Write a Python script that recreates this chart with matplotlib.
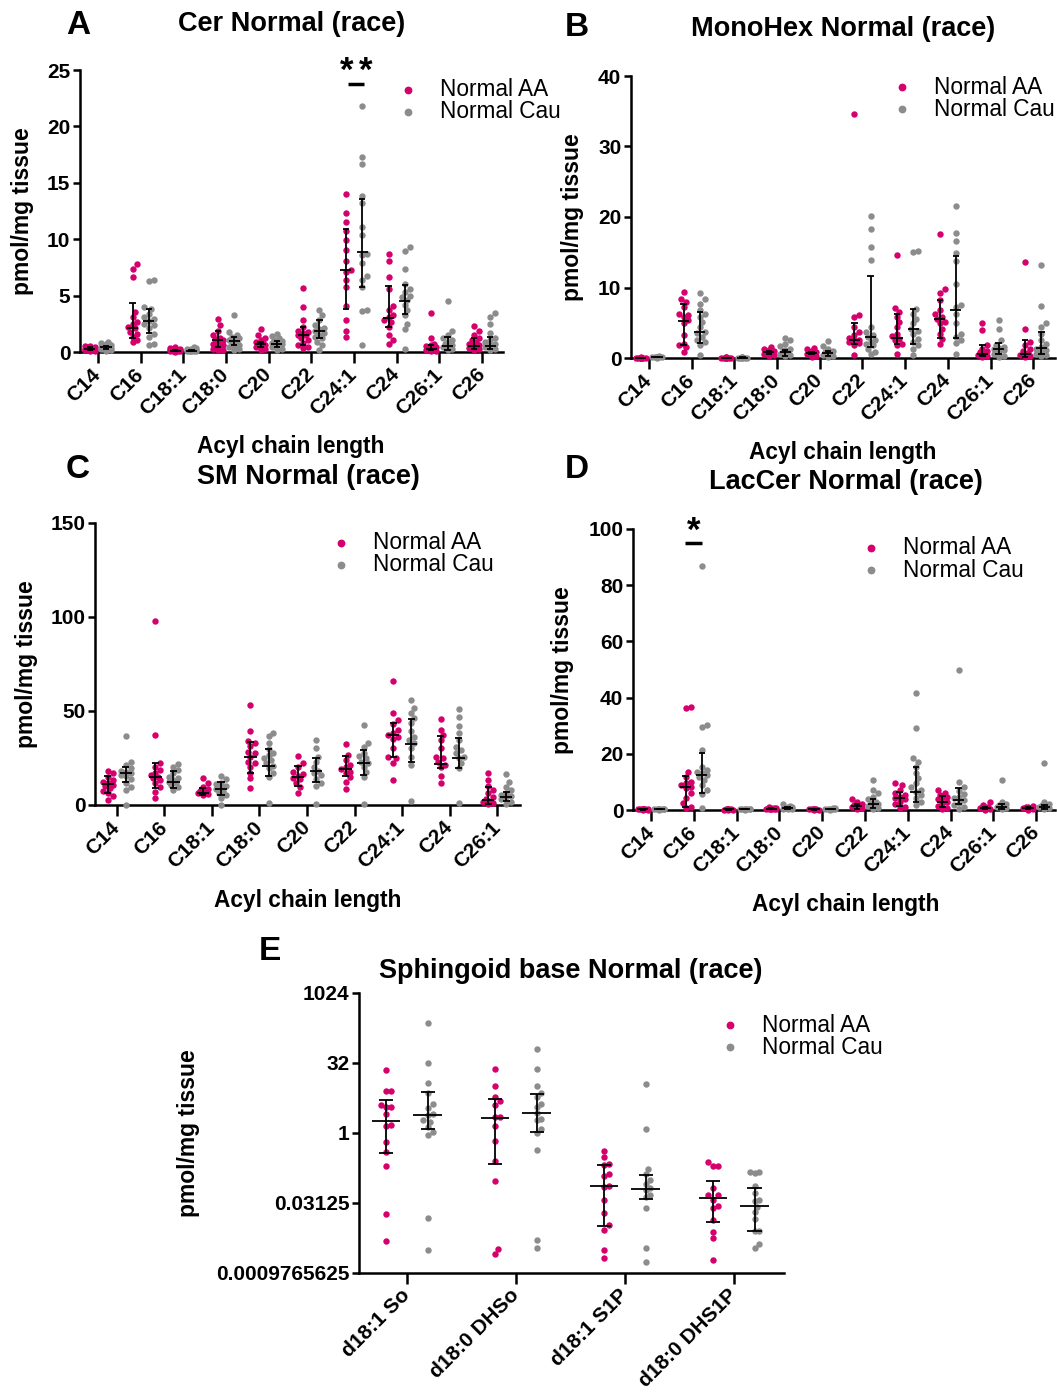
import numpy as np
import matplotlib
matplotlib.use("Agg")
import matplotlib.pyplot as plt
from matplotlib.lines import Line2D

plt.rcParams['font.family'] = ['Liberation Sans', 'DejaVu Sans']

# ---------------- data ----------------
acyl_10 = ["C14", "C16", "C18:1", "C18:0", "C20", "C22", "C24:1", "C24", "C26:1", "C26"]
acyl_9 = acyl_10[:9]
sph_cats = ["d18:1 So", "d18:0 DHSo", "d18:1 S1P", "d18:0 DHS1P"]

# (median, lower, upper) for the error bars
cer_aa = [
    [0.05, 0.1, 0.15, 0.2, 0.2, 0.25, 0.3, 0.3, 0.35, 0.4, 0.45, 0.5, 0.55, 0.2],
    [7.8, 7.4, 6.65, 3.55, 3.1, 2.65, 2.5, 2.2, 2.1, 1.8, 1.6, 1.35, 1.05, 0.85],
    [0.0, 0.05, 0.05, 0.1, 0.1, 0.1, 0.15, 0.15, 0.2, 0.2, 0.25, 0.3, 0.35, 0.4],
    [2.9, 2.35, 1.9, 1.55, 1.25, 1.15, 1.05, 0.8, 0.75, 0.6, 0.45, 0.3, 0.2, 0.15],
    [2.0, 1.5, 1.25, 1.05, 0.9, 0.8, 0.75, 0.7, 0.6, 0.5, 0.45, 0.3, 0.2],
    [5.7, 3.95, 2.85, 2.2, 1.9, 1.8, 1.7, 1.55, 1.5, 1.25, 1.05, 0.8, 0.6, 0.45, 0.35],
    [14.05, 12.3, 11.5, 10.7, 9.9, 9.0, 8.1, 7.3, 7.1, 6.4, 5.8, 4.1, 2.8, 1.9, 1.3],
    [8.7, 8.1, 6.65, 5.6, 4.1, 3.7, 3.25, 3.1, 2.85, 2.65, 2.2, 1.5, 1.05, 0.75],
    [3.5, 1.25, 0.75, 0.6, 0.5, 0.45, 0.35, 0.3, 0.25, 0.18, 0.1, 0.05],
    [2.3, 1.85, 1.5, 1.2, 1.05, 0.9, 0.75, 0.7, 0.6, 0.5, 0.35, 0.3, 0.2],
]
cer_aa_bar = [(0.3, 0.2, 0.4), (2.1, 1.2, 4.3), (0.1, 0.05, 0.2), (1.05, 0.45, 1.9), (0.7, 0.45, 0.9),
              (1.5, 0.6, 2.2), (7.3, 3.85, 10.9), (3.0, 2.2, 5.85), (0.3, 0.15, 0.6), (0.55, 0.25, 1.2)]
cer_cau = [
    [0.1, 0.2, 0.25, 0.3, 0.3, 0.35, 0.4, 0.45, 0.5, 0.55, 0.6, 0.7, 0.8, 0.9, 0.3],
    [6.4, 6.3, 4.0, 3.85, 3.4, 3.1, 2.95, 2.75, 2.5, 2.35, 2.1, 1.6, 1.35, 0.75, 0.6],
    [0.05, 0.05, 0.1, 0.1, 0.1, 0.15, 0.15, 0.2, 0.2, 0.25, 0.3, 0.35, 0.4, 0.1],
    [3.3, 1.8, 1.55, 1.35, 1.25, 1.1, 1.05, 0.9, 0.75, 0.6, 0.5, 0.45, 0.3, 0.15],
    [1.6, 1.4, 1.2, 1.1, 1.0, 0.9, 0.8, 0.7, 0.6, 0.45, 0.3, 0.15],
    [3.75, 3.25, 2.8, 2.35, 2.15, 2.0, 1.85, 1.7, 1.5, 1.35, 1.2, 0.9, 0.6, 0.15],
    [21.8, 17.3, 16.65, 13.85, 13.25, 11.1, 10.35, 8.7, 8.6, 7.85, 6.7, 6.35, 5.75, 3.7, 3.65, 0.6],
    [9.3, 8.95, 7.4, 6.05, 5.55, 5.35, 5.0, 4.9, 4.6, 4.15, 3.7, 3.25, 2.5, 2.05, 0.25],
    [4.5, 1.9, 1.5, 1.2, 1.05, 0.9, 0.8, 0.75, 0.6, 0.5, 0.45, 0.3, 0.15],
    [3.45, 3.1, 2.5, 1.7, 1.25, 1.05, 0.9, 0.75, 0.6, 0.45, 0.3, 0.15],
]
cer_cau_bar = [(0.4, 0.3, 0.55), (2.75, 1.7, 3.85), (0.1, 0.05, 0.2), (0.95, 0.65, 1.35), (0.7, 0.4, 1.0),
               (1.85, 1.2, 2.85), (8.85, 5.8, 13.6), (4.55, 3.35, 5.9), (0.55, 0.2, 1.3), (0.55, 0.25, 1.3)]

hex_aa = [
    [0.02, 0.03, 0.04, 0.05, 0.05, 0.06, 0.07, 0.08, 0.05, 0.04, 0.03, 0.06],
    [9.4, 8.4, 7.95, 7.25, 6.3, 6.05, 5.8, 5.35, 4.9, 3.2, 2.05, 1.8, 1.55, 0.85],
    [0.02, 0.03, 0.05, 0.05, 0.06, 0.08, 0.1, 0.04, 0.03, 0.06],
    [1.55, 1.3, 1.1, 1.0, 0.9, 0.75, 0.7, 0.6, 0.45, 0.3],
    [1.45, 1.25, 1.05, 0.9, 0.85, 0.7, 0.6, 0.5, 0.35, 0.2],
    [34.55, 6.05, 5.8, 4.4, 3.7, 3.2, 2.9, 2.6, 2.5, 2.3, 2.15, 1.8, 0.4],
    [14.6, 7.1, 6.55, 5.8, 5.1, 4.4, 3.45, 3.1, 2.75, 2.5, 2.05, 1.8, 0.6],
    [17.55, 9.8, 9.15, 8.2, 6.85, 6.3, 5.8, 5.6, 5.1, 4.9, 4.15, 3.45, 2.75, 2.05],
    [4.9, 3.95, 1.8, 1.3, 1.0, 0.85, 0.7, 0.6, 0.45, 0.3, 0.15],
    [13.65, 4.15, 2.3, 1.8, 1.3, 1.0, 0.7, 0.6, 0.45, 0.3, 0.15],
]
hex_aa_bar = [(0.05, 0.03, 0.06), (5.3, 1.8, 7.6), (0.05, 0.03, 0.07), (0.8, 0.6, 1.0), (0.7, 0.5, 0.9),
              (2.5, 1.95, 5.0), (2.9, 2.0, 6.2), (5.6, 2.9, 8.2), (0.6, 0.3, 1.9), (0.6, 0.2, 2.5)]
hex_cau = [
    [0.05, 0.08, 0.1, 0.1, 0.12, 0.15, 0.2, 0.25, 0.1, 0.08, 0.12],
    [9.15, 8.3, 7.7, 6.75, 6.3, 5.8, 5.1, 4.4, 3.7, 3.5, 3.0, 2.5, 2.25, 1.8, 0.4],
    [0.03, 0.05, 0.06, 0.08, 0.1, 0.12, 0.05, 0.07, 0.04],
    [2.85, 2.5, 2.05, 1.65, 1.3, 1.1, 1.0, 0.85, 0.7, 0.6, 0.45, 0.25],
    [2.35, 1.65, 1.3, 1.0, 0.85, 0.7, 0.6, 0.45, 0.3, 0.15],
    [20.1, 18.35, 15.75, 13.95, 4.4, 3.7, 3.2, 3.0, 2.5, 2.25, 2.05, 1.8, 1.3, 0.85, 0.6],
    [15.2, 15.05, 7.0, 6.3, 5.6, 4.9, 4.15, 3.9, 3.45, 2.75, 2.3, 1.8, 1.3, 0.4],
    [21.5, 17.75, 16.6, 14.9, 13.8, 10.45, 7.5, 7.25, 6.3, 4.9, 3.45, 3.0, 2.5, 2.15, 0.5],
    [5.35, 4.15, 2.5, 1.9, 1.55, 1.4, 1.25, 1.1, 0.8, 0.5, 0.3, 0.15],
    [13.2, 7.35, 4.9, 4.4, 3.45, 2.6, 2.05, 1.55, 1.3, 1.2, 0.85, 0.5, 0.4, 0.25],
]
hex_cau_bar = [(0.1, 0.08, 0.15), (3.75, 2.1, 6.5), (0.06, 0.04, 0.09), (0.8, 0.35, 1.1), (0.65, 0.3, 1.0),
               (3.0, 1.6, 11.6), (4.1, 2.05, 6.95), (6.8, 2.8, 14.4), (1.3, 0.5, 2.1), (1.35, 0.5, 3.7)]

sm_aa = [
    [18.3, 16.9, 15.1, 13.3, 12.4, 11.5, 10.7, 10.1, 8.9, 7.6, 6.2, 4.8, 2.7],
    [98.0, 37.3, 22.2, 20.4, 18.6, 16.9, 16.0, 15.1, 14.2, 13.3, 11.5, 9.4, 7.1, 3.9],
    [14.2, 11.9, 9.8, 8.3, 7.5, 6.9, 6.6, 6.2, 5.9, 5.1],
    [53.3, 39.4, 34.3, 33.2, 31.4, 28.4, 27.5, 25.7, 23.1, 22.2, 20.4, 17.2, 14.2, 8.9],
    [26.1, 22.2, 20.4, 17.8, 16.5, 15.4, 14.6, 13.7, 11.5, 9.4, 6.6],
    [32.5, 26.6, 24.0, 21.3, 20.4, 19.0, 17.8, 16.9, 14.7, 12.4, 8.3],
    [66.2, 48.8, 45.3, 43.1, 39.9, 38.2, 37.3, 36.4, 35.0, 30.2, 25.4, 24.9, 22.2, 13.3],
    [45.8, 39.9, 37.3, 34.6, 30.2, 25.7, 24.9, 23.1, 21.3, 20.4, 15.4, 11.5],
    [17.2, 13.3, 10.1, 8.0, 6.2, 4.4, 3.0, 2.1, 1.8, 1.4, 0.9, 0.5],
]
sm_aa_bar = [(11.2, 6.3, 15.4), (15.0, 9.0, 22.4), (6.6, 5.5, 9.0), (25.4, 17.2, 33.5), (14.9, 10.3, 21.0),
             (19.3, 15.6, 25.9), (37.0, 25.4, 43.4), (22.0, 19.5, 36.8), (2.5, 0.5, 9.8)]
sm_cau = [
    [36.9, 23.1, 21.3, 19.5, 18.3, 17.8, 16.9, 16.0, 15.4, 13.7, 11.9, 9.8, 8.0, 0.0],
    [21.8, 20.4, 18.6, 16.9, 15.1, 14.2, 13.3, 12.4, 11.9, 10.7, 9.4, 8.0],
    [15.4, 13.7, 11.9, 11.2, 10.1, 9.4, 8.7, 7.6, 6.6, 5.3, 3.9, 0.0],
    [38.5, 36.7, 32.8, 29.6, 27.5, 26.6, 24.9, 24.0, 22.2, 20.8, 19.5, 17.2, 15.1, 1.2],
    [34.6, 30.2, 25.7, 23.1, 20.4, 18.3, 17.2, 16.0, 13.7, 11.9, 10.1, 0.5],
    [42.6, 32.8, 31.1, 27.5, 26.1, 24.9, 23.1, 22.2, 20.4, 17.8, 15.1, 0.5],
    [55.9, 51.5, 48.8, 46.2, 43.5, 39.1, 36.4, 34.6, 32.8, 30.2, 25.7, 21.3, 2.1],
    [50.9, 46.7, 42.1, 38.2, 34.6, 31.1, 29.3, 27.5, 25.7, 24.9, 22.2, 19.5, 1.2],
    [16.3, 12.4, 9.8, 8.0, 6.6, 5.3, 4.8, 4.1, 3.0, 1.8, 0.5],
]
sm_cau_bar = [(17.1, 12.0, 20.3), (12.4, 9.0, 18.0), (8.3, 5.4, 12.1), (21.0, 15.4, 30.0), (18.3, 12.4, 24.9),
              (22.3, 16.2, 29.3), (32.2, 22.7, 46.0), (24.9, 19.9, 35.9), (4.4, 2.0, 6.8)]

lac_aa = [
    [0.1, 0.15, 0.2, 0.2, 0.25, 0.3, 0.3, 0.35, 0.4, 0.2],
    [36.8, 36.2, 13.7, 11.9, 10.1, 9.5, 8.9, 8.3, 7.7, 5.9, 4.2, 2.4, 1.2, 0.6],
    [0.1, 0.15, 0.2, 0.25, 0.3, 0.35, 0.2, 0.15],
    [0.2, 0.3, 0.4, 0.5, 0.6, 0.7, 0.8, 1.0, 0.5, 0.4],
    [0.1, 0.15, 0.2, 0.2, 0.25, 0.3, 0.2],
    [3.8, 3.0, 2.1, 1.8, 1.5, 1.2, 1.0, 0.8, 0.5],
    [9.7, 8.9, 7.1, 5.9, 5.3, 4.8, 4.2, 3.8, 3.0, 2.1, 1.2, 0.6],
    [7.1, 5.9, 5.3, 4.8, 4.2, 3.8, 3.0, 2.1, 1.4, 0.7, 0.2],
    [3.0, 1.8, 1.2, 1.0, 0.7, 0.4, 0.1],
    [1.4, 1.2, 1.0, 0.7, 0.6, 0.4, 0.1],
]
lac_aa_bar = [(0.2, 0.15, 0.3), (8.3, 1.2, 12.1), (0.2, 0.15, 0.3), (0.5, 0.3, 0.7), (0.2, 0.15, 0.25),
              (1.3, 0.5, 2.0), (4.4, 1.5, 6.5), (2.9, 1.2, 5.0), (0.7, 0.3, 1.2), (0.6, 0.3, 1.0)]
lac_cau = [
    [0.1, 0.2, 0.25, 0.3, 0.35, 0.4, 0.5, 0.3, 0.2],
    [86.7, 30.3, 29.5, 21.4, 15.4, 14.3, 13.7, 13.1, 12.5, 11.9, 10.7, 8.9, 7.1, 5.7, 0.6],
    [0.1, 0.2, 0.25, 0.3, 0.4, 0.5, 0.3, 0.2],
    [2.1, 1.5, 1.2, 1.0, 0.8, 0.6, 0.5, 0.4, 0.3],
    [0.8, 0.6, 0.5, 0.4, 0.3, 0.3, 0.2, 0.1],
    [10.5, 7.1, 5.9, 4.8, 3.8, 3.0, 2.6, 2.1, 1.8, 1.4, 0.7, 0.2],
    [41.8, 29.3, 18.4, 17.2, 15.4, 13.3, 11.3, 9.5, 8.1, 7.1, 6.5, 5.3, 4.2, 3.0, 1.8],
    [49.9, 10.1, 8.3, 6.9, 5.7, 4.5, 4.2, 3.6, 2.6, 1.8, 1.0, 0.2],
    [10.5, 3.0, 2.1, 1.8, 1.4, 1.2, 1.0, 0.6, 0.2],
    [16.6, 3.0, 2.1, 1.8, 1.4, 1.2, 1.0, 0.6, 0.2],
]
lac_cau_bar = [(0.3, 0.2, 0.4), (12.4, 6.0, 20.2), (0.3, 0.2, 0.4), (0.6, 0.4, 1.0), (0.3, 0.2, 0.5),
               (2.1, 0.8, 3.8), (6.5, 3.0, 15.2), (3.5, 2.1, 8.0), (1.0, 0.3, 2.3), (1.0, 0.3, 1.8)]

sph_aa = [
    [23, 8.1, 8.1, 4.0, 3.6, 3.6, 2.6, 1.5, 1.4, 0.65, 0.40, 0.2, 0.018, 0.0047],
    [24, 10.5, 6.0, 4.9, 4.0, 2.2, 2.2, 1.41, 0.67, 0.25, 0.093, 0.0032, 0.0025],
    [0.41, 0.30, 0.22, 0.21, 0.13, 0.12, 0.071, 0.07, 0.037, 0.0195, 0.0103, 0.0084, 0.0030, 0.0021],
    [0.24, 0.2, 0.2, 0.065, 0.047, 0.047, 0.037, 0.027, 0.025, 0.0136, 0.0073, 0.0055, 0.0019],
]
sph_aa_bar = [(1.8, 0.37, 5.1), (2.1, 0.22, 5.3), (0.071, 0.0098, 0.206), (0.040, 0.012, 0.095)]
sph_cau = [
    [232, 32.2, 11.6, 7.1, 4.3, 3.4, 2.6, 2.4, 1.9, 1.75, 1.37, 1.07, 0.91, 0.015, 0.0031],
    [65, 24, 10.2, 7.1, 6.0, 4.3, 3.6, 2.7, 2.0, 1.9, 1.2, 1.0, 0.43, 0.0051, 0.0034],
    [11.1, 1.2, 0.166, 0.13, 0.10, 0.080, 0.067, 0.060, 0.047, 0.042, 0.025, 0.0034, 0.0017],
    [0.143, 0.14, 0.145, 0.073, 0.051, 0.037, 0.035, 0.026, 0.02, 0.0141, 0.0080, 0.0078, 0.0042, 0.0034],
]
sph_cau_bar = [(2.4, 1.24, 7.6), (2.7, 1.07, 7.0), (0.062, 0.038, 0.125), (0.027, 0.0080, 0.065)]

# ---------------- figure ----------------
W, H = 1057, 1397
AA_COL = "#d5006d"
CAU_COL = "#8c8c8c"
DOT = 6.4  # px

fig = plt.figure(figsize=(W / 100, H / 100), dpi=100)


def fx(x):
    return x / W


def fy(y):
    return 1 - y / H


def make_ax(left, top, right, bottom):
    return fig.add_axes([fx(left), fy(bottom), (right - left) / W, (bottom - top) / H])


def swarm(ax, x0, vals, maxk=2, step=0.38):
    # compact jitter in pixel space, overlapping once the column is full
    pts = ax.transData.transform(np.column_stack([np.full(len(vals), float(x0)), vals]))
    out = np.zeros_like(pts)
    placed = []
    ks = [0]
    for k in range(1, maxk + 1):
        ks += [k, -k]
    for i in np.argsort(pts[:, 1]):
        px, py = pts[i]
        best, best_d = px, -1
        for k in ks:
            cx = px + k * DOT * step
            dmin = min([np.hypot(cx - qx, py - qy) for qx, qy in placed] or [99])
            if dmin >= DOT * 0.85:
                best = cx
                break
            if dmin > best_d + 0.5:
                best, best_d = cx, dmin
        placed.append((best, py))
        out[i] = (best, py)
    return ax.transData.inverted().transform(out)


def style_axis(ax, cats, yticks, yticklabels=None, fs=15):
    for s in ["top", "right"]:
        ax.spines[s].set_visible(False)
    for s in ["left", "bottom"]:
        ax.spines[s].set_linewidth(1.8)
    ax.set_xticks(range(len(cats)))
    ax.set_xticklabels(cats, rotation=45, ha="right", va="center", rotation_mode="anchor",
                       fontsize=fs, fontweight="bold")
    ax.set_yticks(yticks)
    ax.set_yticklabels(yticklabels if yticklabels else [str(t) for t in yticks],
                       fontsize=fs, fontweight="bold")
    ax.tick_params(axis="x", length=8, width=1.8, pad=6)
    ax.tick_params(axis="y", length=5, width=1.8, pad=2)
    ax.minorticks_off()


def draw_groups(ax, aa, cau, aa_bar, cau_bar, off=0.19, mw=0.13, cw=0.075):
    for i in range(len(aa)):
        for vals, bar, col, sgn in [(aa[i], aa_bar[i], AA_COL, -1), (cau[i], cau_bar[i], CAU_COL, 1)]:
            x0 = i + sgn * off
            xy = swarm(ax, x0, vals)
            ax.scatter(xy[:, 0], xy[:, 1], s=(DOT * 0.72) ** 2, color=col, lw=0,
                       clip_on=False, zorder=3)
            med, lo, hi = bar
            kw = dict(color="black", lw=1.3, zorder=4, clip_on=False, solid_capstyle="butt")
            ax.plot([x0, x0], [lo, hi], **kw)
            ax.plot([x0 - mw, x0 + mw], [med, med], **kw)
            ax.plot([x0 - cw, x0 + cw], [lo, lo], **kw)
            ax.plot([x0 - cw, x0 + cw], [hi, hi], **kw)


def legend(xdot, ytop):
    for j, (lab, col) in enumerate([("Normal AA", AA_COL), ("Normal Cau", CAU_COL)]):
        y = ytop + j * 22
        fig.add_artist(Line2D([fx(xdot)], [fy(y)], marker="o", ms=DOT * 0.72, color=col,
                              mec=col, ls="", transform=fig.transFigure))
        fig.text(fx(xdot + 32), fy(y), lab, fontsize=16.3, va="center", ha="left")


def labels(letter, lxy, title, txy, ylab_x, ylab_y, xlab_xy=None):
    fig.text(fx(lxy[0]), fy(lxy[1]), letter, fontsize=24, fontweight="bold", ha="center", va="center")
    fig.text(fx(txy[0]), fy(txy[1]), title, fontsize=19.5, fontweight="bold", ha="center", va="center")
    fig.text(fx(ylab_x), fy(ylab_y), "pmol/mg tissue", fontsize=16.5, fontweight="bold",
             rotation=90, ha="center", va="center")
    if xlab_xy:
        fig.text(fx(xlab_xy[0]), fy(xlab_xy[1]), "Acyl chain length", fontsize=16.3,
                 fontweight="bold", ha="center", va="center")


def signif(ax, x, ybar, ytext, nstars, half=0.19, gap=0.44):
    ax.plot([x - half, x + half], [ybar, ybar], color="black", lw=2.5, clip_on=False,
            solid_capstyle="butt")
    for s in range(nstars):
        xs = x + (s - (nstars - 1) / 2) * gap
        ax.text(xs, ytext, "*", fontsize=25, fontweight="bold", ha="center", va="baseline",
                clip_on=False)


# Panel A
axA = make_ax(80, 70, 503, 352)
axA.set_xlim(-0.42, 9.49)
axA.set_ylim(0, 25)
style_axis(axA, acyl_10, [0, 5, 10, 15, 20, 25])
draw_groups(axA, cer_aa, cer_cau, cer_aa_bar, cer_cau_bar)
signif(axA, 6.05, 23.75, 24.0, 2)
legend(408, 90)
labels("A", (78, 25), "Cer Normal (race)", (292, 24), 22, 211, (291, 447))

# Panel B
axB = make_ax(631, 76, 1055, 358)
axB.set_xlim(-0.42, 9.51)
axB.set_ylim(0, 40)
style_axis(axB, acyl_10, [0, 10, 20, 30, 40])
draw_groups(axB, hex_aa, hex_cau, hex_aa_bar, hex_cau_bar)
legend(902, 87)
labels("B", (577, 28), "MonoHex Normal (race)", (843, 29), 572, 217, (843, 453))

# Panel C
axC = make_ax(95, 523, 520, 805)
axC.set_xlim(-0.46, 8.48)
axC.set_ylim(0, 150)
style_axis(axC, acyl_9, [0, 50, 100, 150])
draw_groups(axC, sm_aa, sm_cau, sm_aa_bar, sm_cau_bar)
legend(341, 543)
labels("C", (78, 470), "SM Normal (race)", (308, 477), 27, 664, (308, 900))

# Panel D
axD = make_ax(633, 529, 1055, 810)
axD.set_xlim(-0.42, 9.44)
axD.set_ylim(0, 100)
style_axis(axD, acyl_10, [0, 20, 40, 60, 80, 100])
draw_groups(axD, lac_aa, lac_cau, lac_aa_bar, lac_cau_bar)
signif(axD, 1.0, 95.0, 95.8, 1, half=0.2)
legend(871, 548)
labels("D", (577, 470), "LacCer Normal (race)", (846, 482), 563, 670, (846, 905))

# Panel E
axE = make_ax(359, 993, 784, 1273)
axE.set_yscale("log", base=2)
axE.set_xlim(-0.44, 3.46)
axE.set_ylim(2.0 ** -10, 2.0 ** 10)
style_axis(axE, sph_cats, [2.0 ** -10, 2.0 ** -5, 1, 32, 1024],
           ["0.0009765625", "0.03125", "1", "32", "1024"])
draw_groups(axE, sph_aa, sph_cau, sph_aa_bar, sph_cau_bar, off=0.19, mw=0.13, cw=0.065)
legend(730, 1025)
labels("E", (270, 952), "Sphingoid base Normal (race)", (571, 971), 188, 1133)

fig.savefig("out.png", dpi=100)
